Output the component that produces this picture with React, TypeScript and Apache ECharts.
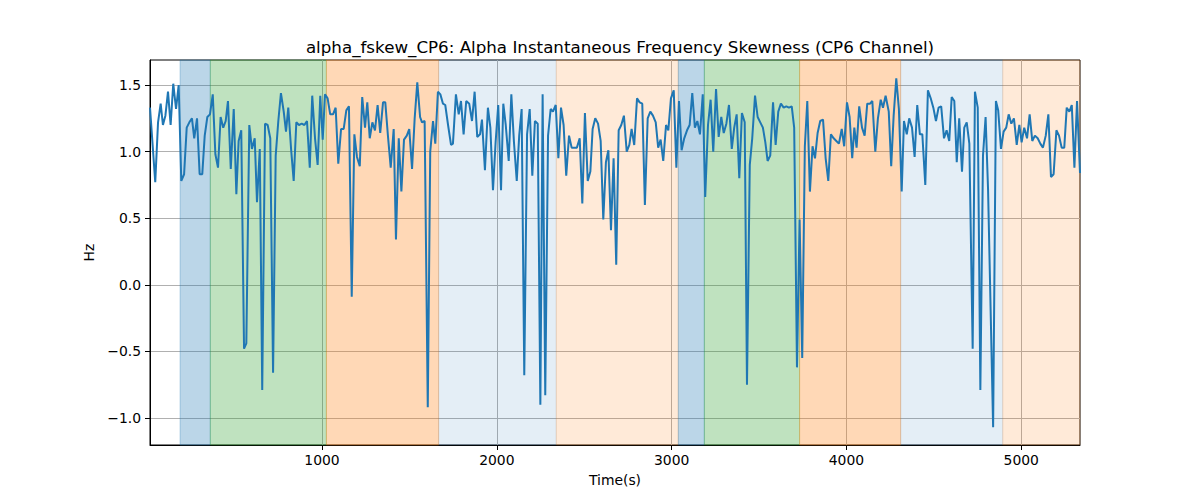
import React, { useEffect, useRef } from "react";
import * as echarts from "echarts";

const TITLE = "alpha_fskew_CP6: Alpha Instantaneous Frequency Skewness (CP6 Channel)";
const X_NAME = "Time(s)";
const Y_NAME = "Hz";

const X_MIN = 16;
const X_MAX = 5336;
const Y_MIN = -1.203;
const Y_MAX = 1.688;

const X_TICKS = [1000, 2000, 3000, 4000, 5000];
const Y_TICKS = [-1.0, -0.5, 0.0, 0.5, 1.0, 1.5];

const TIME_S = [
  16, 46, 62, 77, 90, 104, 119, 134, 149, 165, 180, 195, 211, 226, 241, 256, 269, 285, 300, 315, 329, 344, 359, 375, 390, 405, 420, 435, 449, 462, 478, 495, 510, 523, 538, 554, 567, 584, 599, 615, 628, 644, 658, 674,
  689, 704, 720, 735, 750, 765, 781, 794, 807, 823, 838, 853, 868, 884, 899, 914, 930, 944, 960, 975, 990, 1004, 1017, 1032, 1047, 1063, 1078, 1093, 1109, 1124, 1139, 1154, 1170, 1185, 1200, 1216, 1230, 1246, 1259, 1273, 1288, 1303, 1318, 1333, 1349,
  1362, 1377, 1393, 1410, 1423, 1439, 1454, 1469, 1485, 1499, 1515, 1530, 1545, 1561, 1572, 1587, 1605, 1619, 1635, 1648, 1663, 1677, 1692, 1705, 1721, 1738, 1749, 1766, 1782, 1795, 1810, 1825, 1842, 1858, 1873, 1888, 1904, 1915, 1932, 1949, 1963, 1978, 1993, 2008, 2024,
  2037, 2051, 2068, 2083, 2098, 2114, 2128, 2142, 2157, 2173, 2188, 2203, 2218, 2234, 2249, 2262, 2277, 2293, 2308, 2321, 2337, 2352, 2367, 2382, 2397, 2413, 2428, 2443, 2458, 2474, 2489, 2504, 2520, 2535, 2548, 2563, 2579, 2594, 2609, 2624, 2638, 2653, 2668, 2683,
  2697, 2712, 2727, 2743, 2758, 2771, 2786, 2802, 2817, 2832, 2847, 2863, 2878, 2893, 2909, 2923, 2937, 2952, 2968, 2981, 2996, 3012, 3027, 3042, 3057, 3072, 3088, 3103, 3118, 3133, 3147, 3162, 3178, 3192, 3208, 3223, 3238, 3254, 3269, 3284, 3298, 3313, 3328, 3344, 3358,
  3372, 3387, 3402, 3418, 3431, 3447, 3461, 3477, 3492, 3507, 3522, 3536, 3549, 3564, 3580, 3595, 3610, 3625, 3641, 3656, 3671, 3687, 3701, 3717, 3732, 3747, 3762, 3776, 3791, 3806, 3820, 3835, 3850, 3866, 3881, 3896, 3911, 3927, 3942, 3957, 3973, 3987, 4003, 4018, 4033,
  4045, 4058, 4073, 4089, 4104, 4119, 4135, 4148, 4165, 4180, 4196, 4209, 4224, 4242, 4256, 4270, 4285, 4300, 4316, 4329, 4345, 4359, 4375, 4390, 4405, 4420, 4434, 4451, 4466, 4482, 4497, 4512, 4527, 4542, 4558, 4573, 4588, 4602, 4617, 4631, 4645, 4661, 4674, 4688, 4703,
  4722, 4735, 4751, 4766, 4781, 4796, 4810, 4839, 4855, 4868, 4884, 4899, 4914, 4928, 4943, 4958, 4974, 4989, 5002, 5017, 5033, 5048, 5063, 5078, 5094, 5109, 5124, 5140, 5155, 5170, 5185, 5201, 5216, 5231, 5246, 5260, 5275, 5289, 5304, 5319, 5336,
];

const HZ = [
  1.33, 0.77, 1.22, 1.36, 1.2, 1.27, 1.45, 1.2, 1.51, 1.32, 1.5, 0.78, 0.83, 1.18, 1.22, 1.25, 1.1, 1.25, 0.83, 0.83, 1.12, 1.26, 1.28, 1.43, 0.98, 0.88, 1.26, 1.18, 1.23, 1.38, 0.87, 1.32, 0.68, 1.08, 1.16, -0.48, -0.44, 1.2, 1.02, 1.1, 0.62, 1.02, -0.79, 1.21,
  1.2, 1.1, -0.66, 0.97, 1.23, 1.44, 1.3, 1.15, 1.33, 1.02, 0.78, 1.22, 1.2, 1.21, 1.2, 1.23, 0.88, 1.42, 1.1, 0.9, 1.42, 1.09, 1.43, 1.4, 1.28, 1.28, 1.33, 0.91, 1.17, 1.17, 1.31, 1.34, -0.09, 1.13, 0.96, 0.89, 1.41, 1.18, 1.37, 1.1, 1.22, 1.16, 1.35, 1.14, 1.37,
  1.37, 1.12, 0.88, 1.17, 0.34, 1.1, 0.7, 1.09, 1.12, 1.17, 0.87, 1.25, 1.52, 1.26, 1.22, 1.23, -0.92, 1.0, 1.23, 1.06, 1.45, 1.43, 1.36, 1.35, 1.2, 1.05, 1.06, 1.43, 1.28, 1.38, 1.13, 1.38, 1.36, 1.23, 1.45, 1.11, 1.13, 1.24, 0.86, 1.33, 1.18, 0.71, 1.07, 1.35, 0.71,
  1.36, 1.2, 0.93, 1.43, 1.07, 0.78, 1.12, 1.32, -0.68, 1.13, 1.32, 0.82, 1.23, 1.21, -0.9, 1.43, -0.83, 1.12, 1.32, 1.3, 1.35, 0.95, 1.33, 1.2, 0.82, 1.12, 1.03, 1.03, 1.03, 1.1, 0.61, 1.29, 0.78, 0.85, 1.17, 1.25, 1.21, 1.08, 0.49, 0.92, 1.01, 0.41, 0.95, 0.15,
  1.16, 1.2, 1.27, 1.0, 1.05, 1.17, 1.05, 1.4, 1.37, 1.36, 0.6, 1.25, 1.3, 1.27, 1.22, 1.03, 1.09, 0.93, 1.2, 1.16, 1.4, 1.46, 0.88, 1.38, 1.01, 1.1, 1.16, 1.2, 1.44, 1.18, 1.23, 1.13, 1.43, 0.66, 1.2, 1.39, 1.0, 1.47, 1.11, 1.26, 1.14, 1.21, 1.35, 1.02, 1.18,
  1.28, 0.8, 1.29, 1.22, -0.75, 0.9, 1.1, 1.42, 1.26, 1.22, 1.18, 1.07, 0.93, 0.97, 1.37, 1.05, 1.3, 1.36, 1.33, 1.34, 1.33, 1.34, 1.18, -0.62, 0.49, -0.55, 1.04, 1.38, 0.7, 1.04, 0.95, 1.14, 1.23, 1.24, 0.95, 0.78, 1.13, 1.1, 1.08, 1.06, 1.17, 1.04, 1.37, 1.26, 0.95,
  1.18, 1.03, 1.34, 1.18, 1.12, 1.36, 1.36, 1.38, 1.0, 1.25, 1.39, 1.33, 1.42, 1.3, 0.89, 1.27, 1.55, 1.32, 0.7, 1.23, 1.13, 1.25, 1.18, 0.96, 1.35, 1.13, 1.13, 0.75, 1.46, 1.4, 1.33, 1.23, 1.33, 1.34, 1.1, 1.16, 1.08, 1.41, 1.38, 0.92, 1.25, 0.85, 1.18, 1.22, 1.06,
  -0.48, 1.45, 1.33, -0.79, 0.97, 1.26, 0.72, -1.07, 1.38, 1.31, 1.02, 1.15, 1.18, 1.28, 1.21, 1.25, 1.05, 1.2, 1.07, 1.18, 1.1, 1.28, 1.08, 1.12, 1.1, 1.06, 1.03, 1.12, 1.28, 0.81, 0.83, 1.16, 1.12, 1.03, 1.03, 1.33, 1.3, 1.35, 0.88, 1.38, 0.84,
];

// shaded phases: edges in seconds and the phase kind of each span
const BAND_EDGES = [188, 361, 1025, 1667, 2340, 3038, 3187, 3732, 4310, 4894, 5336];
const BAND_KIND = ["a", "b", "c", "d", "e", "a", "b", "c", "d", "e"];

const KIND_FILL: Record<string, string> = {
  a: "rgba(31,119,180,0.3)",
  b: "rgba(44,160,44,0.3)",
  c: "rgba(255,127,14,0.3)",
  d: "rgba(31,119,180,0.12)",
  e: "rgba(255,127,14,0.16)",
};

const FONT = "DejaVu Sans";

export default function App() {
  const ref = useRef<HTMLDivElement>(null);

  useEffect(() => {
    if (!ref.current) return;
    const chart = echarts.init(ref.current, null, { renderer: "svg" });

    const points = TIME_S.map((t, i) => [t, HZ[i]]);
    const areas = BAND_KIND.map((k, i) => [
      {
        xAxis: BAND_EDGES[i],
        itemStyle: { color: KIND_FILL[k], borderColor: KIND_FILL[k], borderWidth: 1 },
      },
      { xAxis: BAND_EDGES[i + 1] },
    ]);

    const labelStyle = { fontFamily: FONT, fontSize: 13.9, color: "#000" };

    chart.setOption({
      animation: false,
      textStyle: { fontFamily: FONT },
      title: {
        text: TITLE,
        left: 615,
        top: 33,
        textAlign: "center",
        textStyle: { fontFamily: FONT, fontSize: 16.7, fontWeight: "normal", color: "#000" },
      },
      grid: {
        left: 150,
        right: 120,
        top: 60,
        bottom: 55,
        show: true,
        borderColor: "#000",
        borderWidth: 1,
        backgroundColor: "transparent",
      },
      xAxis: {
        type: "value",
        min: X_MIN,
        max: X_MAX,
        splitNumber: 5,
        name: X_NAME,
        nameLocation: "middle",
        nameGap: 28,
        nameTextStyle: labelStyle,
        axisLine: { show: true, onZero: false, lineStyle: { color: "#000", width: 1 } },
        axisTick: {
          show: true,
          inside: false,
          length: 5,
          customValues: X_TICKS,
          lineStyle: { color: "#000", width: 1 },
        },
        axisLabel: {
          ...labelStyle,
          margin: 8,
          customValues: X_TICKS,
          formatter: (v: number) => String(v),
        },
        splitLine: { show: true, lineStyle: { color: "#b0b0b0", width: 1 } },
      },
      yAxis: {
        type: "value",
        min: Y_MIN,
        max: Y_MAX,
        splitNumber: 6,
        name: Y_NAME,
        nameLocation: "middle",
        nameGap: 46,
        nameRotate: 90,
        nameTextStyle: labelStyle,
        axisLine: { show: true, onZero: false, lineStyle: { color: "#000", width: 1 } },
        axisTick: {
          show: true,
          inside: false,
          length: 5,
          customValues: Y_TICKS,
          lineStyle: { color: "#000", width: 1 },
        },
        axisLabel: {
          ...labelStyle,
          margin: 9,
          customValues: Y_TICKS,
          formatter: (v: number) => v.toFixed(1).replace("-", "\u2212"),
        },
        splitLine: { show: true, lineStyle: { color: "#b0b0b0", width: 1 } },
      },
      series: [
        {
          type: "line",
          name: "phases",
          data: [],
          showSymbol: false,
          symbol: "none",
          z: -1,
          markArea: {
            silent: true,
            data: areas,
          },
        },
        {
          type: "line",
          name: "alpha_fskew_CP6",
          data: points,
          showSymbol: false,
          symbol: "none",
          lineStyle: { color: "#1f77b4", width: 2 },
          itemStyle: { color: "#1f77b4" },
          z: 3,
        },
      ],
    });

    return () => chart.dispose();
  }, []);

  return (
    <div
      ref={ref}
      style={{ position: "fixed", left: 0, top: 0, width: 1200, height: 500, background: "#fff" }}
    />
  );
}
